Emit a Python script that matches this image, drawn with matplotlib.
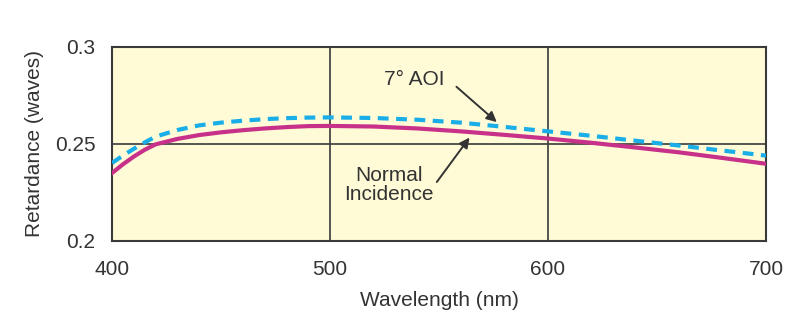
import matplotlib
matplotlib.use('Agg')
import matplotlib.pyplot as plt

plt.rcParams['font.family'] = ['Liberation Sans', 'DejaVu Sans']

# wavelength (nm) and retardance (waves)
wl = [400, 405, 410, 415, 420, 430, 440, 450, 460, 470, 480, 490, 500, 520, 540, 560, 580, 600, 620, 640, 660, 680, 700]
normal = [0.2350, 0.2395, 0.2435, 0.2470, 0.2498, 0.2526, 0.2546, 0.2560, 0.2571, 0.2580, 0.2587, 0.2592, 0.2593,
          0.2590, 0.2580, 0.2565, 0.2547, 0.2528, 0.2506, 0.2482, 0.2457, 0.2428, 0.2398]
aoi7 = [0.2402, 0.2440, 0.2475, 0.2508, 0.2538, 0.2572, 0.2596, 0.2610, 0.2620, 0.2628, 0.2633, 0.2636, 0.2637,
        0.2634, 0.2625, 0.2610, 0.2588, 0.2565, 0.2542, 0.2517, 0.2492, 0.2466, 0.2440]

xticks = [400, 500, 600, 700]
yticks = [0.2, 0.25, 0.3]
ylabels = ['0.2', '0.25', '0.3']

txt = '#333333'
fig = plt.figure(figsize=(8, 3.25), dpi=100)
ax = fig.add_axes([0.14, 0.2585, 0.8175, 0.597])
ax.set_facecolor('#fffbd7')

ax.plot(wl, normal, color='#c8318a', lw=3, zorder=3)
ax.plot(wl, aoi7, color='#1aaee8', lw=3, ls=(0, (2.6, 1.8)), zorder=3)

ax.set_xlim(400, 700)
ax.set_ylim(0.2, 0.3)
ax.set_xticks(xticks)
ax.set_yticks(yticks)
ax.set_yticklabels(ylabels)
ax.tick_params(length=0, labelsize=15, colors=txt)
ax.tick_params(axis='x', pad=14)
ax.tick_params(axis='y', pad=12)
ax.grid(True, color='#3a3a3a', lw=1.2)
ax.set_axisbelow(True)
for s in ax.spines.values():
    s.set_color('#3a3a3a')
    s.set_linewidth(1.5)

ax.set_xlabel('Wavelength (nm)', fontsize=15, color=txt, labelpad=8)
ax.set_ylabel('Retardance (waves)', fontsize=15, color=txt, labelpad=8)

arrow = dict(arrowstyle='-|>', color='#333333', lw=1.4, mutation_scale=15, shrinkA=0, shrinkB=0)
ax.text(538.5, 0.2830, '7° AOI', fontsize=15, color=txt, ha='center', va='center')
ax.annotate('', xy=(576.5, 0.2613), xytext=(558, 0.2795), arrowprops=arrow)
ax.text(527, 0.2289, 'Normal\nIncidence', fontsize=15, color=txt, ha='center', va='center',
        linespacing=1.05)
ax.annotate('', xy=(564, 0.2533), xytext=(549, 0.2304), arrowprops=arrow)

fig.savefig('out.png', dpi=100)
